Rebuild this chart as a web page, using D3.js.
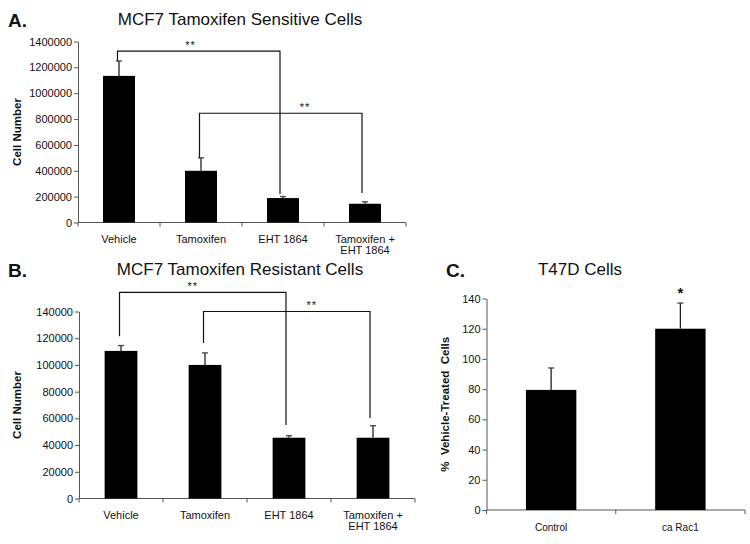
<!DOCTYPE html>
<html><head><meta charset="utf-8">
<script src="https://cdn.jsdelivr.net/npm/d3@7"></script>
<style>
body{margin:0;background:#fff;}
svg text{font-family:"Liberation Sans",Arial,sans-serif;}
</style></head>
<body>
<svg id="chart" width="750" height="544"></svg>
<script>
// ---- Data ----
const catsAB = ["Vehicle", "Tamoxifen", "EHT 1864", "Tamoxifen +\nEHT 1864"];
const sensValues = [1134000, 400000, 189000, 145000];
const sensErrors = [115000, 100000, 12000, 15000];
const sensTicks = [0, 200000, 400000, 600000, 800000, 1000000, 1200000, 1400000];
const resValues = [110500, 100000, 45500, 45500];
const resErrors = [4000, 9000, 1500, 9000];
const resTicks = [0, 20000, 40000, 60000, 80000, 100000, 120000, 140000];
const catsC = ["Control", "ca Rac1"];
const t47Values = [79.5, 120];
const t47Errors = [14.5, 17];
const t47Ticks = [0, 20, 40, 60, 80, 100, 120, 140];
// brackets: [fromIndex, toIndex, bracket level, left drop value, right drop value, star position fraction]
const sensBrackets = [[0, 2, 1325000, 1250000, 220000, 0.45], [1, 3, 845000, 500000, 228000, 0.65]];
const resBrackets = [[0, 2, 154300, 121400, 55100, 0.44], [1, 3, 140000, 116400, 60200, 0.65]];
const t47Stars = ["", "*"];

const svg = d3.select("#chart");

function panel(o) {
  const g = svg.append("g");
  const x = d3.scaleBand().domain(o.cats).range([o.x0, o.x1]).paddingInner(0.61).paddingOuter(0.305);
  const xb = d3.scaleBand().domain(o.cats).range([o.x0, o.x1]);
  const y = d3.scaleLinear().domain([0, o.ymax]).range([o.y0, o.y1]);
  const axisCol = "#555";
  // y axis
  const ya = g.append("g").attr("transform", `translate(${o.x0},0)`)
    .call(d3.axisLeft(y).tickValues(o.ticks).tickSize(4).tickSizeOuter(0).tickFormat(d3.format("d")));
  ya.select(".domain").attr("stroke", axisCol);
  ya.selectAll(".tick line").attr("stroke", axisCol);
  ya.selectAll(".tick text").attr("font-size", o.tickFont).attr("fill", "#111").attr("x", -6);
  // x axis baseline + ticks at band boundaries
  g.append("line").attr("x1", o.x0).attr("x2", o.x1).attr("y1", o.y0).attr("y2", o.y0).attr("stroke", axisCol);
  const bounds = o.cats.map(c => xb(c)).concat([o.x1]);
  g.selectAll(".xt").data(bounds).join("line")
    .attr("x1", d => d).attr("x2", d => d).attr("y1", o.y0).attr("y2", o.y0 + 4).attr("stroke", axisCol);
  // bars
  g.selectAll(".bar").data(o.values).join("rect")
    .attr("x", (d, i) => x(o.cats[i])).attr("width", x.bandwidth())
    .attr("y", d => y(d)).attr("height", d => o.y0 - y(d)).attr("fill", "#000");
  // error bars
  const cx = i => x(o.cats[i]) + x.bandwidth() / 2;
  g.selectAll(".err").data(o.values).join("line")
    .attr("x1", (d, i) => cx(i)).attr("x2", (d, i) => cx(i))
    .attr("y1", d => y(d)).attr("y2", (d, i) => y(d + o.errors[i])).attr("stroke", "#222").attr("stroke-width", 1.3);
  g.selectAll(".cap").data(o.values).join("line")
    .attr("x1", (d, i) => cx(i) - 3).attr("x2", (d, i) => cx(i) + 3)
    .attr("y1", (d, i) => y(d + o.errors[i])).attr("y2", (d, i) => y(d + o.errors[i])).attr("stroke", "#444").attr("stroke-width", 1.3);
  // x labels
  o.cats.forEach((c, i) => {
    const lines = c.split("\n");
    const t = g.append("text").attr("x", cx(i)).attr("y", o.y0 + o.xlabOff).attr("text-anchor", "middle")
      .attr("font-size", o.xFont).attr("fill", "#111");
    lines.forEach((l, j) => t.append("tspan").attr("x", cx(i)).attr("dy", j ? 11 : 0).text(l));
  });
  // y label
  g.append("text").attr("transform", `translate(${o.ylabX},${(o.y0 + o.y1) / 2}) rotate(-90)`)
    .attr("text-anchor", "middle").attr("font-size", 11.5).attr("font-weight", "bold").attr("fill", "#111")
    .style("white-space", "pre").text(o.ylab);
  // title and letter
  g.append("text").attr("x", o.titleX).attr("y", o.titleY).attr("text-anchor", "middle")
    .attr("font-size", 17).attr("fill", "#111").text(o.title);
  g.append("text").attr("x", o.letterX).attr("y", o.titleY + 2).attr("font-size", 19).attr("font-weight", "bold")
    .attr("fill", "#111").text(o.letter);
  // brackets
  (o.brackets || []).forEach(b => {
    const xa = cx(b[0]) - 1.5, xc = cx(b[1]) - 3;
    const yb = y(b[2]);
    g.append("path").attr("d", `M${xa},${y(b[3])}V${yb}H${xc}V${y(b[4])}`)
      .attr("fill", "none").attr("stroke", "#111").attr("stroke-width", 1.2);
    g.append("text").attr("x", xa + (xc - xa) * b[5]).attr("y", yb - 2.5).attr("text-anchor", "middle")
      .attr("font-size", 11).attr("letter-spacing", 1).attr("fill", "#111").text("**");
  });
  (o.stars || []).forEach((s, i) => {
    if (!s) return;
    g.append("text").attr("x", cx(i)).attr("y", y(o.values[i] + o.errors[i]) - 5).attr("text-anchor", "middle")
      .attr("font-size", 15).attr("font-weight", "bold").attr("fill", "#111").text(s);
  });
}

panel({cats: catsAB, values: sensValues, errors: sensErrors, ticks: sensTicks, ymax: 1400000,
  x0: 78, x1: 406, y0: 222.5, y1: 41.5, tickFont: 11, xFont: 11, xlabOff: 20,
  ylab: "Cell Number", ylabX: 21, title: "MCF7 Tamoxifen Sensitive Cells", titleX: 240, titleY: 25,
  letter: "A.", letterX: 8, brackets: sensBrackets});

panel({cats: catsAB, values: resValues, errors: resErrors, ticks: resTicks, ymax: 140000,
  x0: 79, x1: 415, y0: 498.5, y1: 311.5, tickFont: 11, xFont: 11, xlabOff: 20,
  ylab: "Cell Number", ylabX: 21, title: "MCF7 Tamoxifen Resistant Cells", titleX: 240, titleY: 275,
  letter: "B.", letterX: 8, brackets: resBrackets});

panel({cats: catsC, values: t47Values, errors: t47Errors, ticks: t47Ticks, ymax: 140,
  x0: 486.5, x1: 745, y0: 510, y1: 298.5, tickFont: 11, xFont: 10, xlabOff: 21,
  ylab: "%  Vehicle-Treated  Cells", ylabX: 449, title: "T47D Cells", titleX: 580, titleY: 275,
  letter: "C.", letterX: 446, stars: t47Stars});
</script>
</body></html>
